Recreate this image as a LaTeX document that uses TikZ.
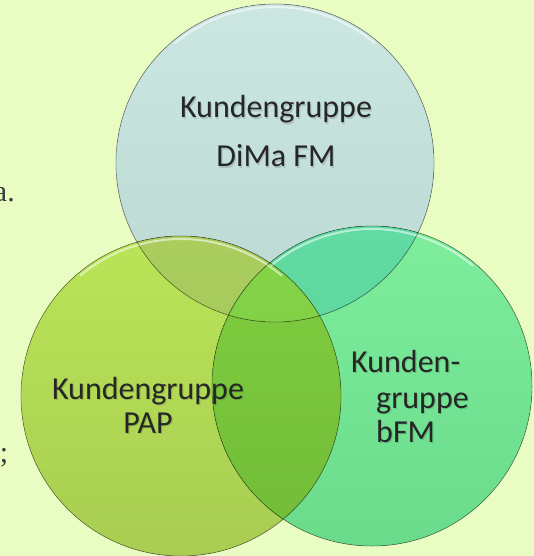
\documentclass[tikz,border=0pt]{standalone}
\usepackage{fontspec}
\usetikzlibrary{calc}
\setmainfont{Carlito}
\newfontfamily\fragfont{Liberation Serif}
\definecolor{bgc}{HTML}{E9FDC3}
\definecolor{topA}{HTML}{CCE7E1}
\definecolor{topB}{HTML}{BBD8D2}
\definecolor{leftA}{HTML}{BAE557}
\definecolor{leftB}{HTML}{A8CD52}
\definecolor{rightA}{HTML}{7EEE9D}
\definecolor{rightB}{HTML}{6ADB8B}
\definecolor{ltA}{HTML}{AACD5E}
\definecolor{ltB}{HTML}{A2C25A}
\definecolor{trA}{HTML}{62DBA2}
\definecolor{trB}{HTML}{58D29A}
\definecolor{lrA}{HTML}{80CE40}
\definecolor{lrB}{HTML}{72BC38}
\definecolor{triA}{HTML}{86D448}
\definecolor{triB}{HTML}{7CCB42}
\definecolor{txt}{HTML}{262626}
\definecolor{frag}{HTML}{3A3A3A}
\tikzset{
  circtext/.style={text=txt, inner sep=0pt, font=\fontsize{32}{38}\selectfont},
  shadowtext/.style={text=black, text opacity=0.13, inner sep=0pt, font=\fontsize{32}{38}\selectfont},
  fragtext/.style={text=frag, inner sep=0pt, font=\fragfont\fontsize{30}{36}\selectfont},
  rim/.style={draw=black, draw opacity=0.3, line width=0.8pt},
  gloss/.style={draw=white, draw opacity=0.55, line width=2pt}
}
\newcommand{\lbl}[4]{%
  \node[shadowtext, anchor=#2] (#1s) at ($(#3)+(1.2,1.8)$) {#4};
  \node[circtext, anchor=#2] (#1) at (#3) {#4};}
\begin{document}
\begin{tikzpicture}[x=1pt,y=-1pt]
\useasboundingbox (0,0) rectangle (534,556);
\clip (0,0) rectangle (534,556);
\fill[bgc] (0,0) rectangle (534,556);
\coordinate (T) at (275,163);
\coordinate (L) at (181,396);
\coordinate (R) at (372,386);
\def\rT{159pt}\def\rL{160pt}\def\rR{160pt}
% base circles
\fill[top color=topA, bottom color=topB] (T) circle[radius=\rT];
\fill[top color=leftA, bottom color=leftB] (L) circle[radius=\rL];
\fill[top color=rightA, bottom color=rightB] (R) circle[radius=\rR];
% pairwise overlaps
\begin{scope}
  \clip (T) circle[radius=\rT];
  \fill[top color=ltA, bottom color=ltB] (L) circle[radius=\rL];
  \fill[top color=trA, bottom color=trB] (R) circle[radius=\rR];
\end{scope}
\begin{scope}
  \clip (L) circle[radius=\rL];
  \fill[top color=lrA, bottom color=lrB] (R) circle[radius=\rR];
\end{scope}
\begin{scope}
  \clip (L) circle[radius=\rL];
  \clip (T) circle[radius=\rT];
  \fill[top color=triA, bottom color=triB] (R) circle[radius=\rR];
\end{scope}
% gloss highlights
\draw[gloss] ($(T)+(130:156pt)$) arc[start angle=130, end angle=50, radius=156pt];
\draw[gloss] ($(L)+(130:157pt)$) arc[start angle=130, end angle=50, radius=157pt];
\draw[gloss] ($(R)+(130:157pt)$) arc[start angle=130, end angle=50, radius=157pt];
% outlines
\draw[rim] (T) circle[radius=\rT];
\draw[rim] (L) circle[radius=\rL];
\draw[rim] (R) circle[radius=\rR];
% texts
\lbl{t1}{base}{276,118}{Kundengruppe}
\lbl{t2}{base}{276,167}{DiMa FM}
\lbl{l1}{base}{148,399}{Kundengruppe}
\lbl{l2}{base}{148,433}{PAP}
\lbl{r1}{base west}{351,372}{Kunden-}
\lbl{r2}{base west}{376,408}{gruppe}
\lbl{r3}{base west}{376,442}{bFM}
% clipped fragments at the left edge
\node[fragtext, anchor=base east] (f1) at (15,201) {a.};
\node[fragtext, anchor=base east] (f2) at (8.5,462) {;};
\end{tikzpicture}
\end{document}
